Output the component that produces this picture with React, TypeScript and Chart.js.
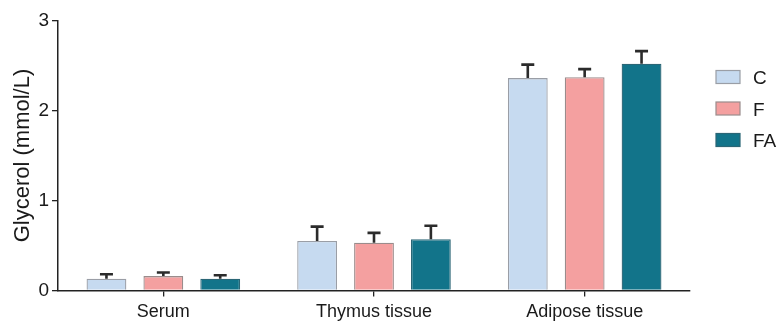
import React, { useEffect, useRef } from "react";
import { Chart, registerables } from "chart.js";

Chart.register(...registerables);

const categories = ["Serum", "Thymus tissue", "Adipose tissue"];
const seriesNames = ["C", "F", "FA"];
const valuesC = [0.13, 0.55, 2.36];
const valuesF = [0.16, 0.53, 2.37];
const valuesFA = [0.13, 0.57, 2.52];
const errC = [0.05, 0.16, 0.15];
const errF = [0.04, 0.11, 0.09];
const errFA = [0.04, 0.15, 0.14];
const yTicks = [0, 1, 2, 3];

const fills = ["#c6daf0", "#f4a0a0", "#12748a"];
const borders = ["#9a9ea6", "#9a8c8c", "#2b6676"];
const FONT = "'Liberation Sans', Arial, sans-serif";

export default function App() {
  const ref = useRef<HTMLCanvasElement | null>(null);
  useEffect(() => {
    document.body.style.margin = "0";
    const errs = [errC, errF, errFA];
    const errorBars = {
      id: "errorBars",
      afterDatasetsDraw(chart: any) {
        const ctx = chart.ctx;
        const y = chart.scales.y;
        ctx.save();
        ctx.strokeStyle = "#2b2b2b";
        ctx.lineWidth = 2.6;
        chart.data.datasets.forEach((ds: any, di: number) => {
          const meta = chart.getDatasetMeta(di);
          meta.data.forEach((bar: any, i: number) => {
            const v = ds.data[i];
            const top = y.getPixelForValue(v + errs[di][i]);
            const base = y.getPixelForValue(v);
            ctx.beginPath();
            ctx.moveTo(bar.x, base);
            ctx.lineTo(bar.x, top);
            ctx.moveTo(bar.x - 6.5, top);
            ctx.lineTo(bar.x + 6.5, top);
            ctx.stroke();
          });
        });
        ctx.restore();
      },
    };
    const legendPlugin = {
      id: "customLegend",
      afterDraw(chart: any) {
        const ctx = chart.ctx;
        ctx.save();
        chart.data.datasets.forEach((ds: any, di: number) => {
          const yTop = 70.5 + di * 31.5;
          ctx.fillStyle = ds.backgroundColor;
          ctx.fillRect(716, yTop, 24, 13);
          ctx.strokeStyle = ds.borderColor;
          ctx.lineWidth = 1.2;
          ctx.strokeRect(716, yTop, 24, 13);
          ctx.fillStyle = "#1a1a1a";
          ctx.font = `19px ${FONT}`;
          ctx.textBaseline = "middle";
          ctx.textAlign = "left";
          ctx.fillText(ds.label, 753, yTop + 8.5);
        });
        ctx.restore();
      },
    };
    const chart = new Chart(ref.current!, {
      type: "bar",
      data: {
        labels: categories,
        datasets: [valuesC, valuesF, valuesFA].map((d, i) => ({
          label: seriesNames[i],
          data: d,
          backgroundColor: fills[i],
          borderColor: borders[i],
          borderWidth: 1.3,
          barPercentage: 0.7,
          categoryPercentage: 0.81,
        })),
      },
      options: {
        animation: false,
        responsive: false,
        maintainAspectRatio: false,
        layout: { padding: { top: 20.5, right: 87, left: 0, bottom: 0 } },
        plugins: { legend: { display: false }, tooltip: { enabled: false } },
        scales: {
          x: {
            grid: {
              offset: false,
              drawOnChartArea: false,
              drawTicks: true,
              tickLength: 6,
              color: "#222",
              lineWidth: 1.3,
            },
            border: { color: "#222", width: 1.5 },
            ticks: { color: "#1a1a1a", font: { family: FONT, size: 18 }, padding: 5 },
            afterFit(s: any) {
              s.height = 30.5;
            },
          },
          y: {
            min: 0,
            max: 3,
            afterBuildTicks(s: any) {
              s.ticks = yTicks.map((v) => ({ value: v }));
            },
            grid: {
              drawOnChartArea: false,
              drawTicks: true,
              tickLength: 6,
              color: "#222",
              lineWidth: 1.3,
            },
            border: { color: "#222", width: 1.5 },
            ticks: { color: "#1a1a1a", font: { family: FONT, size: 19 }, padding: 3 },
            title: {
              display: true,
              text: "Glycerol (mmol/L)",
              color: "#1a1a1a",
              font: { family: FONT, size: 22 },
              padding: { top: 10, bottom: 0 },
            },
            afterFit(s: any) {
              s.width = 58;
            },
          },
        },
      },
      plugins: [errorBars, legendPlugin],
    });
    return () => chart.destroy();
  }, []);
  return (
    <div style={{ width: 777, height: 321 }}>
      <canvas ref={ref} width={777} height={321} style={{ display: "block" }} />
    </div>
  );
}
